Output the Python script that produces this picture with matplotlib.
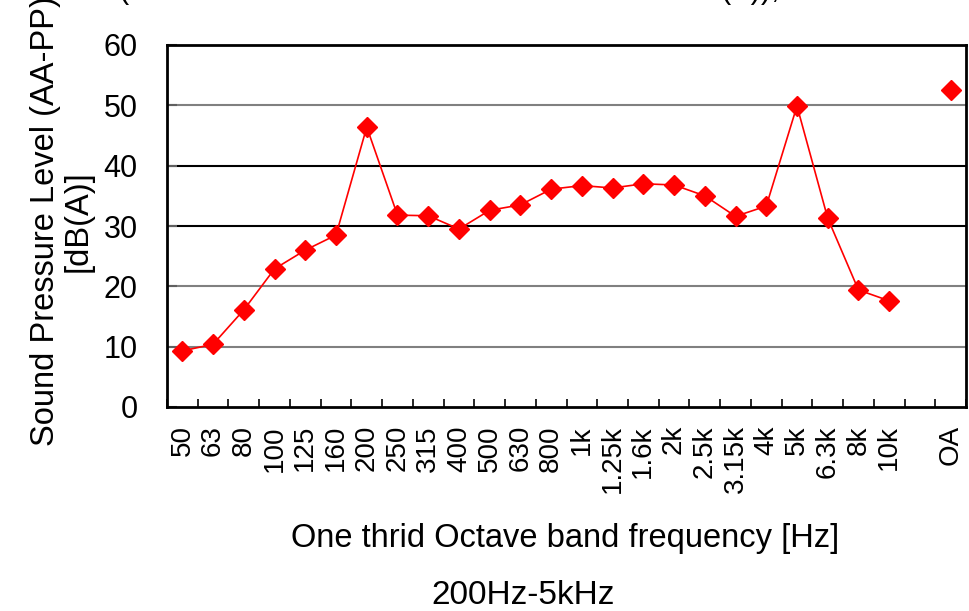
import matplotlib.pyplot as plt

plt.rcParams['font.family'] = ['Liberation Sans', 'DejaVu Sans']

# one-third octave bands, then a blank slot, then overall (OA)
bands = ["50", "63", "80", "100", "125", "160", "200", "250", "315", "400",
         "500", "630", "800", "1k", "1.25k", "1.6k", "2k", "2.5k", "3.15k",
         "4k", "5k", "6.3k", "8k", "10k"]
spl = [9.3, 10.4, 16.1, 22.9, 26.0, 28.5, 46.4, 31.8, 31.7, 29.5,
       32.6, 33.5, 36.1, 36.7, 36.3, 37.0, 36.8, 35.0, 31.6,
       33.3, 49.9, 31.3, 19.4, 17.6]
oa_label = "OA"
oa_value = 52.6

tick_labels = bands + ["", oa_label]
x_bands = list(range(len(bands)))
x_oa = len(bands) + 1

fig = plt.figure(figsize=(9.69, 6.11), dpi=100)
ax = fig.add_axes([167 / 969, 1 - 407 / 611, (966 - 167) / 969, (407 - 45) / 611])

# horizontal grid: some grey, some black like the original
grid_col = {10: "#808080", 20: "#808080", 30: "black", 40: "black", 50: "#808080"}
for yv, c in grid_col.items():
    ax.axhline(yv, color=c, lw=1.5, zorder=1)

ax.plot(x_bands, spl, color="red", lw=1.2, marker="D", markersize=10.5,
        markeredgecolor="red", zorder=3, clip_on=False)
ax.plot([x_oa], [oa_value], color="red", lw=0, marker="D", markersize=10.5,
        zorder=3, clip_on=False)

ax.set_xlim(-0.5, len(tick_labels) - 0.5)
ax.set_ylim(0, 60)
ax.set_yticks(range(0, 61, 10))
ax.set_xticks(range(len(tick_labels)))
ax.set_xticklabels(tick_labels, rotation=90, fontsize=20)
ax.set_xticks([i - 0.5 for i in range(len(tick_labels) + 1)], minor=True)
ax.tick_params(axis="x", which="major", length=0, pad=13)
ax.tick_params(axis="x", which="minor", direction="in", length=6, width=1.2)
ax.tick_params(axis="y", direction="in", length=7, width=1.5, color="#606060",
               labelsize=22, pad=21)

for s in ax.spines.values():
    s.set_linewidth(2)
    s.set_color("black")

fig.text(62 / 969, 1 - 221 / 611, "Sound Pressure Level (AA-PP)\n[dB(A)]",
         rotation=90, ha="center", va="center", fontsize=23.5, linespacing=1.05)
fig.text(565 / 969, 1 - 538 / 611, "One thrid Octave band frequency [Hz]",
         ha="center", va="center", fontsize=23.5)
fig.text(523 / 969, 1 - 595 / 611, "200Hz-5kHz",
         ha="center", va="center", fontsize=24)

# clipped title fragments at the very top
fig.text(118 / 969, 1.003, "(", ha="left", va="baseline", fontsize=22)
fig.text(780 / 969, 1.003, "(A)),", ha="right", va="baseline", fontsize=22)

fig.savefig("out.png", dpi=100)
